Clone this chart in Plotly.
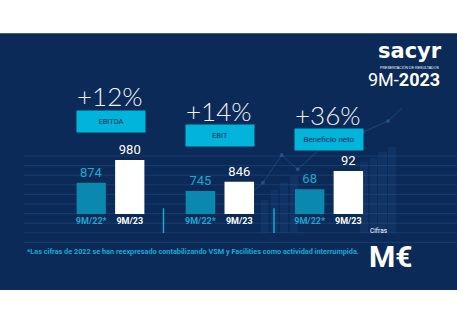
import plotly.graph_objects as go

# ---- data ----
groups = ["EBITDA", "EBIT", "Beneficio neto"]
growth = ["+12%", "+14%", "+36%"]
periods = ["9M/22*", "9M/23"]
values_2022 = [874, 745, 68]
values_2023 = [980, 846, 92]
footnote = "*Las cifras de 2022 se han reexpresado contabilizando VSM y Facilities como actividad interrumpida."

W, H = 457, 324
def px(x): return x / W
def py(y): return 1 - y / H

NAVY = "#0b2a57"
CYAN = "#19a9d3"
BOX = "#00b5d9"
BAR22 = "#0a88ae"
FONT = "Roboto, Lato, sans-serif"

# per-group layout (pixel geometry)
x_domains = [(72, 149), (181, 258.7), (290.3, 367.7)]
y_ranges = [(727.9, 1260), (495.3, 1733), (35.6, 185.1)]
y_dom = (py(214), py(100))
box_pos = [(110.5, 121.7), (219.9, 135.8), (329, 139.2)]
pct_pos = [(110, 96), (219, 111), (328, 115)]

fig = go.Figure()
layout = {}
annotations = []
shapes = []

# slide background
shapes.append(dict(type="rect", xref="paper", yref="paper", x0=0, x1=1, y0=py(290), y1=py(33.3),
                   fillcolor=NAVY, line_width=0, layer="below"))
# faint horizontal lines
for k in range(10):
    y = 156 + 9.6 * k
    shapes.append(dict(type="line", xref="paper", yref="paper", x0=px(24), x1=1, y0=py(y), y1=py(y),
                       line=dict(color="rgba(70,130,200,0.22)", width=1), layer="below"))
# faint background bars decoration
deco_bars = [(260.7, 268.3, 200), (270.7, 278.3, 190), (280, 288, 182.7), (290, 298, 176),
             (360, 368, 161.7), (370, 377, 158), (378, 387, 152), (388, 396, 146.7)]
for x0, x1, t in deco_bars:
    shapes.append(dict(type="rect", xref="paper", yref="paper", x0=px(x0), x1=px(x1), y0=py(233), y1=py(t),
                       fillcolor="rgba(35,80,140,0.25)", line_width=0, layer="below"))
# faint background line decoration
deco_pts = [(230, 212), (263, 182.7), (281.7, 155), (297.7, 169.3), (330, 140), (363, 132), (388, 121), (402, 108)]
path = "M " + " L ".join(f"{px(x)},{py(y)}" for x, y in deco_pts)
shapes.append(dict(type="path", xref="paper", yref="paper", path=path,
                   line=dict(color="rgba(60,120,190,0.35)", width=1), layer="below"))
for x, y in deco_pts[1:-1]:
    shapes.append(dict(type="circle", xref="paper", yref="paper", x0=px(x - 2), x1=px(x + 2), y0=py(y + 2), y1=py(y - 2),
                       fillcolor="rgba(60,120,190,0.4)", line_width=0, layer="below"))
# separators
for x in (163.5, 274):
    shapes.append(dict(type="line", xref="paper", yref="paper", x0=px(x), x1=px(x), y0=py(233), y1=py(208.3),
                       line=dict(color=CYAN, width=1.5)))

for i, g in enumerate(groups):
    ax = "" if i == 0 else str(i + 1)
    fig.add_trace(go.Bar(
        x=periods, y=[values_2022[i], values_2023[i]],
        xaxis="x" + ax, yaxis="y" + ax,
        marker=dict(color=[BAR22, "#ffffff"], line_width=0),
        text=[str(values_2022[i]), str(values_2023[i])],
        textposition="outside", cliponaxis=False,
        textfont=dict(family=FONT, size=13, color=[CYAN, "#ffffff"]),
        showlegend=False, hoverinfo="skip",
    ))
    layout["xaxis" + ax] = dict(domain=[px(x_domains[i][0]), px(x_domains[i][1])], anchor="y" + ax,
                                tickvals=periods,
                                ticktext=[f"<b><span style='color:{CYAN}'>{periods[0]}</span></b>",
                                          f"<b><span style='color:#ffffff'>{periods[1]}</span></b>"],
                                tickfont=dict(family=FONT, size=9), showgrid=False, showline=False,
                                zeroline=False, ticks="")
    layout["yaxis" + ax] = dict(domain=list(y_dom), anchor="x" + ax, range=list(y_ranges[i]),
                                visible=False, showgrid=False)
    # growth label
    annotations.append(dict(xref="paper", yref="paper", x=px(pct_pos[i][0]), y=py(pct_pos[i][1]),
                            text=growth[i], showarrow=False, xanchor="center", yanchor="middle",
                            font=dict(family="Lato, Roboto, sans-serif", size=26, color="#eef3f8", weight=300)))
    # group box
    annotations.append(dict(xref="paper", yref="paper", x=px(box_pos[i][0]), y=py(box_pos[i][1]),
                            text=g.upper() if i < 2 else g, showarrow=False, xanchor="center", yanchor="middle",
                            width=68, height=21, bgcolor=BOX, borderpad=0,
                            font=dict(family=FONT, size=7.5 if i < 2 else 8, color=NAVY)))

# logo and titles
annotations += [
    dict(xref="paper", yref="paper", x=px(409.5), y=py(51), text="<b>sacyr</b>", showarrow=False,
         xanchor="center", yanchor="middle", font=dict(family="DejaVu Sans, sans-serif", size=21, color="#ffffff")),
    dict(xref="paper", yref="paper", x=px(409.5), y=py(67), text="PRESENTACIÓN DE RESULTADOS", showarrow=False,
         xanchor="center", yanchor="middle", font=dict(family="Liberation Sans, sans-serif", size=3.6, color="#ffffff")),
    dict(xref="paper", yref="paper", x=px(442), y=py(79.5), text="9M-<b>2023</b>", showarrow=False,
         xanchor="right", yanchor="middle", font=dict(family="Roboto, sans-serif", size=18, color="#ffffff")),
    dict(xref="paper", yref="paper", x=px(25), y=py(251), text="<b>" + footnote + "</b>", showarrow=False,
         xanchor="left", yanchor="middle", font=dict(family="Roboto, sans-serif", size=7.3, color=CYAN)),
    dict(xref="paper", yref="paper", x=px(368), y=py(237), text="Cifras", showarrow=False,
         xanchor="left", yanchor="bottom", font=dict(family="Roboto, sans-serif", size=6.5, color="#ffffff")),
    dict(xref="paper", yref="paper", x=px(367), y=py(236.5), text="<b>M€</b>", showarrow=False,
         xanchor="left", yanchor="top", font=dict(family="Roboto, sans-serif", size=30, color="#ffffff")),
]

fig.update_layout(
    width=W, height=H, margin=dict(l=0, r=0, t=0, b=0),
    paper_bgcolor="#ffffff", plot_bgcolor="rgba(0,0,0,0)",
    bargap=0.24, shapes=shapes, annotations=annotations, **layout,
)
fig.write_html("out.html")
